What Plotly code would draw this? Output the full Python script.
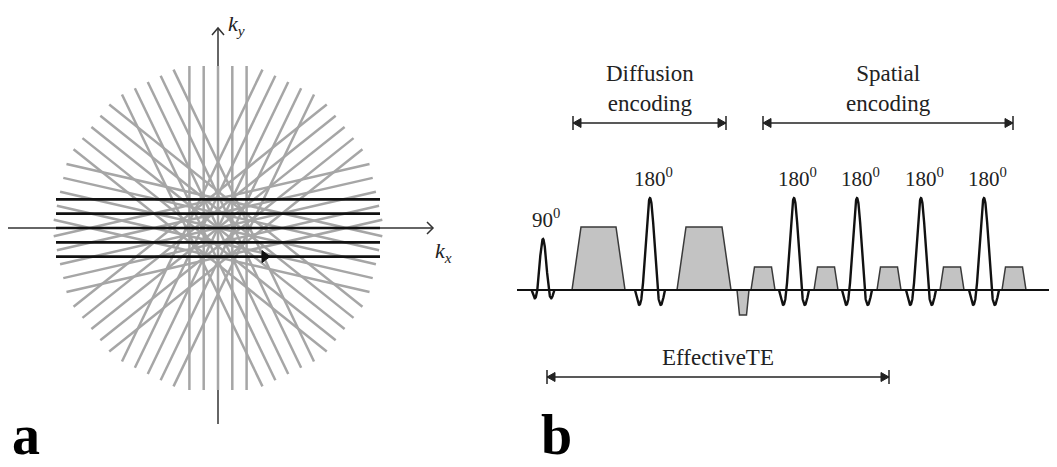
import numpy as np
import plotly.graph_objects as go

W, H = 1057, 467
PAGE_MARGIN = 8  # browser default body margin

# ---------------- Panel a data (k-space) ----------------
center_a = (218, 228)
blade_half_length = 162
line_spacing = 14.3
gray_blade_angles_deg = [90.0, 115.7, 141.4, 167.1, 12.9, 38.6, 64.3]
black_blade_angles_deg = [0.0]
blade_line_offsets = [-2, -1, 0, 1, 2]

# ---------------- Panel b data (pulse sequence) ----------------
baseline_y = 290
baseline_x = [517, 1055]
rf_labels = ["90<sup>0</sup>", "180<sup>0</sup>", "180<sup>0</sup>", "180<sup>0</sup>", "180<sup>0</sup>", "180<sup>0</sup>"]
rf_centers = [543, 650, 794, 857, 921, 984]
rf_heights = [51, 92, 92, 92, 92, 92]
rf_halfwidths = [5.7, 7.5, 7.5, 7.5, 7.5, 7.5]
# gradient trapezoids: start, ramp, flat-top, amplitude (positive = up)
grad_starts = [572, 677, 737, 751, 814, 877, 940, 1002]
grad_ramps = [9, 9, 2.5, 3.5, 3.5, 3.5, 3.5, 3.5]
grad_flats = [35, 36, 7, 17, 17, 17, 17, 17]
grad_amps = [63, 63, -25, 23, 23, 23, 23, 23]
bracket_names = ["Diffusion<br>encoding", "Spatial<br>encoding", "EffectiveTE"]
bracket_x0 = [573, 763, 547]
bracket_x1 = [726, 1013, 889]
bracket_y = [123, 123, 377]

SERIF = "'Liberation Serif', 'Times New Roman', Times, serif"

fig = go.Figure()


def add_line(xs, ys, color, width):
    fig.add_trace(go.Scatter(x=xs, y=ys, mode="lines", line=dict(color=color, width=width),
                             hoverinfo="skip", showlegend=False))


def add_poly(xs, ys, fill, color, width):
    fig.add_trace(go.Scatter(x=xs, y=ys, mode="lines", fill="toself", fillcolor=fill,
                             line=dict(color=color, width=width), hoverinfo="skip", showlegend=False))


cx, cy = center_a
# axes
add_line([8, 433, None, 427, 433, 427], [cy, cy, None, cy - 6, cy, cy + 6], "#333333", 1.5)
add_line([cx, cx, None, cx - 6, cx, cx + 6], [424, 28, None, 35, 28, 35], "#333333", 1.5)


def blade_coords(angles):
    xs, ys = [], []
    for a in angles:
        th = np.deg2rad(a)
        ux, uy = np.cos(th), -np.sin(th)
        nx, ny = np.sin(th), np.cos(th)
        for o in blade_line_offsets:
            px, py = cx + o * line_spacing * nx, cy + o * line_spacing * ny
            xs += [px - blade_half_length * ux, px + blade_half_length * ux, None]
            ys += [py - blade_half_length * uy, py + blade_half_length * uy, None]
    return xs, ys


gx, gy = blade_coords(gray_blade_angles_deg)
add_line(gx, gy, "#a6a6a6", 2.5)
bx, by = blade_coords(black_blade_angles_deg)
add_line(bx, by, "#111111", 2.7)
# direction arrow on the bottom black line
ay = cy + blade_line_offsets[-1] * line_spacing
add_poly([262, 270, 262, 262], [ay - 6, ay, ay + 6, ay - 6], "#111111", "#111111", 1)

# ---------------- Panel b ----------------
for s, r, f, a in zip(grad_starts, grad_ramps, grad_flats, grad_amps):
    xs = [s, s + r, s + r + f, s + 2 * r + f, s]
    ys = [baseline_y, baseline_y - a, baseline_y - a, baseline_y, baseline_y]
    add_poly(xs, ys, "#c3c3c3", "#3a3a3a", 1.5)

add_line(baseline_x, [baseline_y, baseline_y], "#111111", 2)

t = np.linspace(-2, 2, 161)
v = np.sinc(t)
v = np.where(v < 0, v * 0.75, v)
for c, h, w in zip(rf_centers, rf_heights, rf_halfwidths):
    add_line(list(c + t * w), list(baseline_y - h * v), "#111111", 2.4)

for lab, c, h in zip(rf_labels, rf_centers, rf_heights):
    fig.add_annotation(x=c + 3, y=baseline_y - h - 5, text=lab, showarrow=False, yanchor="bottom",
                       font=dict(family=SERIF, size=21, color="#222222"))

for name, x0, x1, yb in zip(bracket_names, bracket_x0, bracket_x1, bracket_y):
    add_line([x0, x1, None, x0, x0, None, x1, x1], [yb, yb, None, yb - 7, yb + 7, None, yb - 7, yb + 7],
             "#222222", 1.5)
    add_poly([x0, x0 + 8, x0 + 8, x0], [yb, yb - 4.5, yb + 4.5, yb], "#222222", "#222222", 1)
    add_poly([x1, x1 - 8, x1 - 8, x1], [yb, yb - 4.5, yb + 4.5, yb], "#222222", "#222222", 1)
    fig.add_annotation(x=(x0 + x1) / 2, y=yb - 5, text=name, showarrow=False, yanchor="bottom",
                       font=dict(family=SERIF, size=23, color="#222222"))

# axis labels and panel letters
fig.add_annotation(x=236, y=PAGE_MARGIN + 1, text="<i>k<sub>y</sub></i>", showarrow=False, yanchor="top",
                   font=dict(family=SERIF, size=22, color="#222222"))
fig.add_annotation(x=443, y=252, text="<i>k<sub>x</sub></i>", showarrow=False,
                   font=dict(family=SERIF, size=22, color="#222222"))
fig.add_annotation(x=11, y=H, text="<b>a</b>", showarrow=False, xanchor="left", yanchor="bottom",
                   borderpad=0, font=dict(family=SERIF, size=56, color="#000000"))
fig.add_annotation(x=540, y=H, text="<b>b</b>", showarrow=False, xanchor="left", yanchor="bottom",
                   borderpad=0, font=dict(family=SERIF, size=56, color="#000000"))

fig.update_layout(width=W - PAGE_MARGIN, height=H - PAGE_MARGIN, margin=dict(l=0, r=0, t=0, b=0),
                  paper_bgcolor="white", plot_bgcolor="white",
                  xaxis=dict(range=[PAGE_MARGIN, W], visible=False, fixedrange=True),
                  yaxis=dict(range=[H, PAGE_MARGIN], visible=False, fixedrange=True),
                  showlegend=False)
fig.write_html("out.html")
